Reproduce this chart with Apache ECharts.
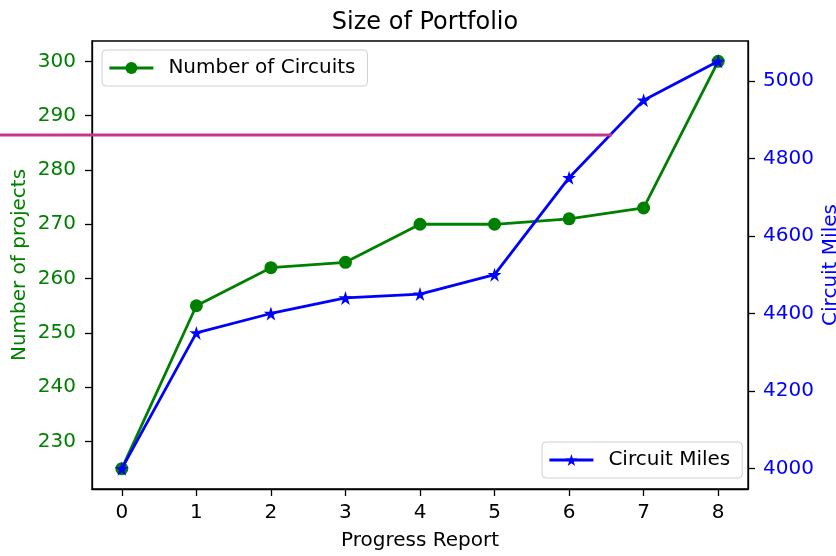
<!DOCTYPE html>
<html>
<head>
<meta charset="utf-8">
<title>Size of Portfolio</title>
<script src="https://cdn.jsdelivr.net/npm/echarts@6/dist/echarts.min.js"></script>
<style>
  html, body { margin: 0; padding: 0; background: #fff; }
  #chart { width: 836px; height: 556px; }
</style>
</head>
<body>
<div id="chart"></div>
<script>
// progress report index
const reports = [0, 1, 2, 3, 4, 5, 6, 7, 8]
// left axis: number of circuits
const circuits = [225, 255, 262, 263, 270, 270, 271, 273, 300]
// right axis: circuit miles
const miles = [4000, 4350, 4400, 4440, 4450, 4500, 4750, 4950, 5050]

const xTicks = [0, 1, 2, 3, 4, 5, 6, 7, 8]
const leftTicks = [230, 240, 250, 260, 270, 280, 290, 300]
const rightTicks = [4000, 4200, 4400, 4600, 4800, 5000]

const GREEN = '#008000'
const BLUE = '#0000ff'
const FONT = 'DejaVu Sans'
const FS = 20

// matplotlib-ish star marker
const STAR = 'path://M50 0 L61.2 34.6 L97.6 34.5 L68.1 55.9 L79.4 90.5 L50 69 L20.6 90.5 L31.9 55.9 L2.4 34.5 L38.8 34.6 Z'

const chart = echarts.init(document.getElementById('chart'), null, { renderer: 'canvas' })

const tickStyle = { show: true, inside: false, length: 7, lineStyle: { color: '#000', width: 1.3 } }
const lineAxis = { show: true, onZero: false, lineStyle: { color: '#000', width: 1.3 } }
const plain = v => String(v)

const legendBox = {
  padding: [8, 12, 8, 6],
  itemWidth: 44, itemHeight: 15,
  backgroundColor: 'rgba(255,255,255,0.8)',
  borderColor: '#d0d0d0', borderWidth: 1, borderRadius: 4,
  lineStyle: { width: 2.8 },
  textStyle: { fontFamily: FONT, fontSize: FS, color: '#000', padding: [0, 0, 0, 10] }
}

const option = {
  backgroundColor: '#fff',
  animation: false,
  title: {
    text: 'Size of Portfolio',
    left: 420,
    textAlign: 'center',
    top: 6,
    textStyle: { fontFamily: FONT, fontSize: 24, fontWeight: 'normal', color: '#000' }
  },
  grid: {
    left: 92, right: 88, top: 41, bottom: 67,
    outerBoundsMode: 'none',
    containLabel: false,
    show: true, borderColor: '#000', borderWidth: 1.3, backgroundColor: 'transparent'
  },
  legend: [
    Object.assign({ data: ['Number of Circuits'], left: 102, top: 50 }, legendBox),
    Object.assign({ data: ['Circuit Miles'], left: 542, top: 442 }, legendBox)
  ],
  xAxis: {
    type: 'value',
    min: -0.4, max: 8.4,
    name: 'Progress Report',
    nameLocation: 'middle',
    nameGap: 42,
    nameTextStyle: { fontFamily: FONT, fontSize: FS, color: '#000' },
    axisLine: lineAxis,
    axisTick: Object.assign({ customValues: xTicks }, tickStyle),
    axisLabel: { customValues: xTicks, formatter: plain, margin: 14, fontFamily: FONT, fontSize: FS, color: '#000' },
    splitLine: { show: false }
  },
  yAxis: [
    {
      type: 'value',
      position: 'left',
      min: 221.25, max: 303.75,
      name: 'Number of projects',
      nameLocation: 'middle',
      nameMoveOverlap: false,
      nameGap: 62,
      nameTextStyle: { fontFamily: FONT, fontSize: FS, color: GREEN },
      axisLine: lineAxis,
      axisTick: Object.assign({ customValues: leftTicks }, tickStyle),
      axisLabel: { customValues: leftTicks, formatter: plain, margin: 16, fontFamily: FONT, fontSize: FS, color: GREEN },
      splitLine: { show: false }
    },
    {
      type: 'value',
      position: 'right',
      min: 3947.5, max: 5102.5,
      name: 'Circuit Miles',
      nameLocation: 'middle',
      nameMoveOverlap: false,
      nameGap: 73,
      nameTextStyle: { fontFamily: FONT, fontSize: FS, color: BLUE },
      axisLine: lineAxis,
      axisTick: Object.assign({ customValues: rightTicks }, tickStyle),
      axisLabel: { customValues: rightTicks, formatter: plain, margin: 15, fontFamily: FONT, fontSize: FS, color: BLUE },
      splitLine: { show: false }
    }
  ],
  series: [
    {
      name: 'Number of Circuits',
      type: 'line',
      yAxisIndex: 0,
      data: reports.map((r, i) => [r, circuits[i]]),
      symbol: 'circle',
      symbolSize: 13,
      lineStyle: { color: GREEN, width: 2.8 },
      itemStyle: { color: GREEN },
      z: 2
    },
    {
      name: 'Circuit Miles',
      type: 'line',
      yAxisIndex: 1,
      data: reports.map((r, i) => [r, miles[i]]),
      symbol: STAR,
      symbolSize: 14,
      lineStyle: { color: BLUE, width: 2.8 },
      itemStyle: { color: BLUE },
      z: 3
    }
  ],
  // stray magenta rule that sits over the figure
  graphic: [
    {
      type: 'line',
      z: 100,
      shape: { x1: 0, y1: 135, x2: 612, y2: 135 },
      style: { stroke: '#c8358f', lineWidth: 3.2 }
    }
  ]
}

chart.setOption(option)
</script>
</body>
</html>
